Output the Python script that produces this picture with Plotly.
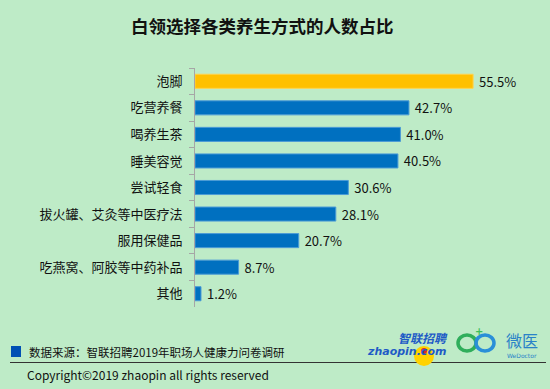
import plotly.graph_objects as go

categories = ["泡脚", "吃营养餐", "喝养生茶", "睡美容觉", "尝试轻食",
              "拔火罐、艾灸等中医疗法", "服用保健品", "吃燕窝、阿胶等中药补品", "其他"]
values = [55.5, 42.7, 41.0, 40.5, 30.6, 28.1, 20.7, 8.7, 1.2]
labels = ["55.5%", "42.7%", "41.0%", "40.5%", "30.6%", "28.1%", "20.7%", "8.7%", "1.2%"]
highlight = "泡脚"

W, H = 550, 389
L, R, T, B = 195, 5, 68, 82
BG = "#BEEBC7"
FONT = "Noto Sans CJK SC"

def px(x):
    return (x - L) / (W - L - R)

def py(y):
    return 1 - (y - T) / (H - T - B)

colors = ["#FFC000" if c == highlight else "#0070C0" for c in categories]
line_colors = ["#FFD34D" if c == highlight else "#4C9BD6" for c in categories]

fig = go.Figure(go.Bar(
    x=values, y=categories, orientation="h",
    marker=dict(color=colors, line=dict(color=line_colors, width=1)),
    text=labels, texttemplate="\u00a0%{text}",
    textposition="outside", cliponaxis=False, constraintext="none",
    textfont=dict(family=FONT, size=13, color="#111111"),
    width=0.53, hoverinfo="skip",
))

fig.update_layout(
    width=W, height=H,
    margin=dict(l=L, r=R, t=T, b=B),
    paper_bgcolor=BG, plot_bgcolor=BG,
    showlegend=False,
    font=dict(family=FONT, color="#111111"),
    title=dict(text="<b>白领选择各类养生方式的人数占比</b>", x=0.477, xanchor="center",
               y=1 - 27 / H, yanchor="middle",
               font=dict(family=FONT, size=17.5, color="#111111")),
)
fig.update_xaxes(range=[0, 69.85], visible=False, showgrid=False, zeroline=False)
fig.update_yaxes(
    autorange="reversed", showgrid=False, zeroline=False,
    showline=True, linecolor="#A6A6A6", linewidth=1,
    ticks="outside", tickson="boundaries", ticklen=5, tickcolor="#A6A6A6",
    tickfont=dict(family=FONT, size=13, color="#111111"),
    ticklabelstandoff=9,
)

# footer
fig.add_shape(type="rect", xref="paper", yref="paper",
              x0=px(11), x1=px(21), y0=py(357), y1=py(346),
              fillcolor="#0050B4", line=dict(width=0))
fig.add_annotation(xref="paper", yref="paper", x=px(27), y=py(352),
                   text="数据来源：智联招聘2019年职场人健康力问卷调研", showarrow=False,
                   xanchor="left", yanchor="middle",
                   font=dict(family=FONT, size=11.5, color="#111111"))
fig.add_shape(type="line", xref="paper", yref="paper",
              x0=px(10), x1=px(546), y0=py(362.5), y1=py(362.5),
              line=dict(color="#333333", width=1))
fig.add_annotation(xref="paper", yref="paper", x=px(25), y=py(374),
                   text="Copyright©2019 zhaopin all rights reserved", showarrow=False,
                   xanchor="left", yanchor="middle",
                   font=dict(family=FONT, size=12, color="#111111"))

# logos (approximate)
fig.add_shape(type="circle", xref="paper", yref="paper",
              x0=px(414), x1=px(434), y0=py(366), y1=py(346),
              fillcolor="#FFD200", line=dict(width=0))
fig.add_shape(type="circle", xref="paper", yref="paper",
              x0=px(421), x1=px(427), y0=py(354), y1=py(348),
              fillcolor="#D9262B", line=dict(width=0))
fig.add_annotation(xref="paper", yref="paper", x=px(396), y=py(337),
                   text="<b><i>智联招聘</i></b>", showarrow=False,
                   xanchor="left", yanchor="middle",
                   font=dict(family=FONT, size=12, color="#1E5BC6"))
fig.add_annotation(xref="paper", yref="paper", x=px(365), y=py(351),
                   text="<b><i>zhaopin.com</i></b>", showarrow=False,
                   xanchor="left", yanchor="middle",
                   font=dict(family="DejaVu Sans", size=11, color="#1E5BC6"))
# infinity-like mark
fig.add_shape(type="circle", xref="paper", yref="paper",
              x0=px(458), x1=px(476), y0=py(351), y1=py(335),
              line=dict(color="#2FAE5B", width=3.5))
fig.add_shape(type="circle", xref="paper", yref="paper",
              x0=px(476), x1=px(494), y0=py(351), y1=py(335),
              line=dict(color="#2A8FD8", width=3.5))
fig.add_annotation(xref="paper", yref="paper", x=px(479), y=py(331),
                   text="<b>+</b>", showarrow=False,
                   xanchor="center", yanchor="middle",
                   font=dict(family="DejaVu Sans", size=10, color="#3DBE5A"))
fig.add_annotation(xref="paper", yref="paper", x=px(522), y=py(339.5),
                   text="微医", showarrow=False,
                   xanchor="center", yanchor="middle",
                   font=dict(family=FONT, size=16, color="#2A82C8"))
fig.add_annotation(xref="paper", yref="paper", x=px(522), y=py(355.5),
                   text="WeDoctor", showarrow=False,
                   xanchor="center", yanchor="middle",
                   font=dict(family="DejaVu Sans", size=6, color="#2A82C8"))

fig.write_html("out.html", config={"displayModeBar": False},
               post_script="document.body.style.margin='0';")
